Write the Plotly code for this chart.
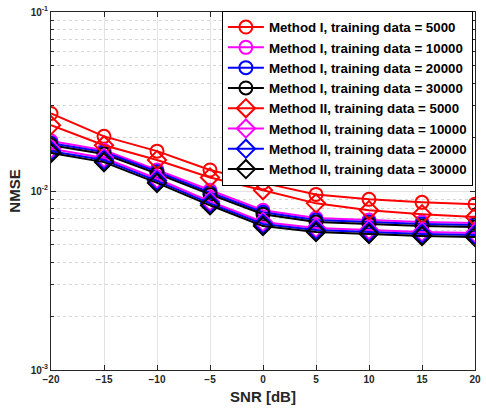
import numpy as np
import plotly.graph_objects as go

snr = [-20, -15, -10, -5, 0, 5, 10, 15, 20]

m1_5000 = [0.0271, 0.0202, 0.0167, 0.0131, 0.0111, 0.00957, 0.00898, 0.00864, 0.00843]
m1_10000 = [0.0190, 0.0169, 0.0131, 0.0101, 0.00781, 0.00706, 0.00688, 0.00671, 0.00662]
m1_20000 = [0.0185, 0.0165, 0.0128, 0.00981, 0.00761, 0.00688, 0.00671, 0.00654, 0.00645]
m1_30000 = [0.0180, 0.0161, 0.0125, 0.00957, 0.00742, 0.00671, 0.00654, 0.00637, 0.00629]
m2_5000 = [0.0233, 0.0180, 0.0149, 0.0119, 0.0101, 0.00853, 0.00781, 0.00742, 0.00715]
m2_10000 = [0.0172, 0.0153, 0.0117, 0.00875, 0.00671, 0.00621, 0.00606, 0.00590, 0.00583]
m2_20000 = [0.0167, 0.0149, 0.0114, 0.00853, 0.00654, 0.00606, 0.00590, 0.00576, 0.00568]
m2_30000 = [0.0163, 0.0145, 0.0111, 0.00832, 0.00637, 0.00590, 0.00576, 0.00561, 0.00553]

series = [
    ("Method I, training data = 5000", m1_5000, "#ff0000", "circle-open"),
    ("Method I, training data = 10000", m1_10000, "#ff00ff", "circle-open"),
    ("Method I, training data = 20000", m1_20000, "#0000ff", "circle-open"),
    ("Method I, training data = 30000", m1_30000, "#000000", "circle-open"),
    ("Method II, training data = 5000", m2_5000, "#ff0000", "diamond-open"),
    ("Method II, training data = 10000", m2_10000, "#ff00ff", "diamond-open"),
    ("Method II, training data = 20000", m2_20000, "#0000ff", "diamond-open"),
    ("Method II, training data = 30000", m2_30000, "#000000", "diamond-open"),
]

x_ticks = [-20, -15, -10, -5, 0, 5, 10, 15, 20]
y_ticks = [0.001, 0.01, 0.1]
y_ticktext = ["10<sup>-3</sup>", "10<sup>-2</sup>", "10<sup>-1</sup>"]
minor_vals = [m * d for d in (0.001, 0.01) for m in range(2, 10)]

fig = go.Figure()
for name, vals, color, sym in series:
    fig.add_trace(go.Scatter(
        x=snr, y=vals, name=name, mode="lines+markers",
        line=dict(color=color, width=2),
        marker=dict(symbol=sym, size=13 if "circle" in sym else 14,
                    line=dict(color=color, width=2)),
    ))

font_family = "Liberation Sans, Arial, sans-serif"
axis_color = "#262626"

fig.update_layout(
    width=486, height=415,
    margin=dict(l=51, r=5, t=7, b=45),
    paper_bgcolor="white", plot_bgcolor="white",
    font=dict(family=font_family, color=axis_color),
    showlegend=True,
    legend=dict(
        x=0.995, y=1.003, xanchor="right", yanchor="top",
        bgcolor="white", bordercolor="black", borderwidth=1,
        font=dict(size=13.3, color="black", weight="bold"),
        tracegroupgap=0, itemwidth=36,
    ),
    xaxis=dict(
        range=[-20, 20], tickvals=x_ticks,
        ticks="inside", ticklen=5, tickcolor=axis_color,
        showline=True, linecolor=axis_color, linewidth=1, mirror="ticks",
        showgrid=True, gridcolor="#e3e3e3", gridwidth=1,
        zeroline=False, ticklabeloverflow="allow",
        tickfont=dict(size=10, weight="bold", color=axis_color),
        title=dict(text="SNR [dB]", font=dict(size=15, weight="bold", color=axis_color), standoff=7),
    ),
    yaxis=dict(
        type="log", range=[-3, -1],
        tickvals=y_ticks, ticktext=y_ticktext,
        ticks="inside", ticklen=5, tickcolor=axis_color,
        showline=True, linecolor=axis_color, linewidth=1, mirror="ticks",
        showgrid=True, gridcolor="#e3e3e3", gridwidth=1,
        zeroline=False, ticklabeloverflow="allow",
        tickfont=dict(size=10, weight="bold", color=axis_color),
        title=dict(text="NMSE", font=dict(size=15, weight="bold", color=axis_color), standoff=6),
        minor=dict(tickvals=minor_vals, ticks="inside", ticklen=3, tickcolor=axis_color,
                   showgrid=True, gridcolor="#d6d6d6", griddash="dot", gridwidth=1),
    ),
)

fig.write_html("out.html")
